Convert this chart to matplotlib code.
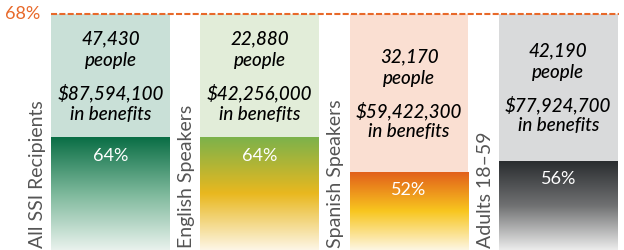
import matplotlib.pyplot as plt
import numpy as np
from matplotlib.colors import LinearSegmentedColormap

plt.rcParams['font.family'] = ['Lato', 'DejaVu Sans']

categories = ["All SSI Recipients", "English Speakers", "Spanish Speakers", "Adults 18\u201359"]
rates = [64, 64, 52, 56]
people = [47430, 22880, 32170, 42190]
benefits = [87594100, 42256000, 59422300, 77924700]
target = 68

box_colors = ["#c9e0d7", "#e2edd9", "#fadfd2", "#d9dadb"]
gradients = [
    ["#e9f2ed", "#7db89b", "#0a6e45"],
    ["#fdf6e6", "#e9b81f", "#7cb24b"],
    ["#fdf6e2", "#f8c61f", "#e2601a"],
    ["#ececec", "#707172", "#2a2d30"],
]

fig = plt.figure(figsize=(6.24, 2.51), dpi=100)
ax = fig.add_axes([0, 0, 1, 1])

# pixel layout of the original: bar centres ~149 px apart, bottom of picture ~25%
x = np.arange(len(categories))
width = 0.794
ax.set_xlim(-0.74, 3.44)
ylo, yhi = 25.4, 111.9
ax.set_ylim(ylo, yhi)
box_frac = 1 - 14.5 / 251
box_top = ylo + box_frac * (yhi - ylo)

for i in range(len(categories)):
    x0 = x[i] - width / 2
    x1 = x[i] + width / 2
    # pale background box reaching the target line
    ax.bar(x[i], box_top - ylo, width, bottom=ylo, color=box_colors[i], zorder=1)

    # gradient bar
    cmap = LinearSegmentedColormap.from_list(f"g{i}", gradients[i])
    grad = np.linspace(0, 1, 256).reshape(-1, 1)
    ax.imshow(grad, cmap=cmap, origin="lower", aspect="auto",
              extent=(x0, x1, ylo, rates[i]), zorder=2, interpolation="bicubic")

    ax.annotate(f"{rates[i]}%", (x[i], rates[i]), xytext=(0, -12),
                textcoords="offset points", ha="center", va="center",
                color="white", fontsize=13, zorder=3)

    mid = (rates[i] + box_top) / 2
    lines = [f"{people[i]:,}", "people", f"${benefits[i]:,}", "in benefits"]
    offsets = [27, 11.5, -12, -27]
    for txt, off in zip(lines, offsets):
        ax.annotate(txt, (x[i], mid), xytext=(0, off), textcoords="offset points",
                    ha="center", va="center", fontsize=13.5, style="italic",
                    weight="medium", color="#000000", zorder=3)

    ax.annotate(categories[i], (x0, ylo), xytext=(-6, 2.5), textcoords="offset points",
                rotation=90, rotation_mode="anchor", ha="left", va="baseline",
                fontsize=14, color="#555555", zorder=3)

# target line
ax.plot([x[0] - width / 2, x[-1] + width / 2 + 0.01], [box_top, box_top], color="#e8692a",
        linewidth=1.5, dashes=(2.9, 1.1), zorder=4)
ax.annotate(f"{target}%", (x[0] - width / 2, box_top), xytext=(-8, 0),
            textcoords="offset points", ha="right", va="center",
            fontsize=13, color="#e8692a")

ax.axis("off")
fig.savefig("out.png", dpi=100)
